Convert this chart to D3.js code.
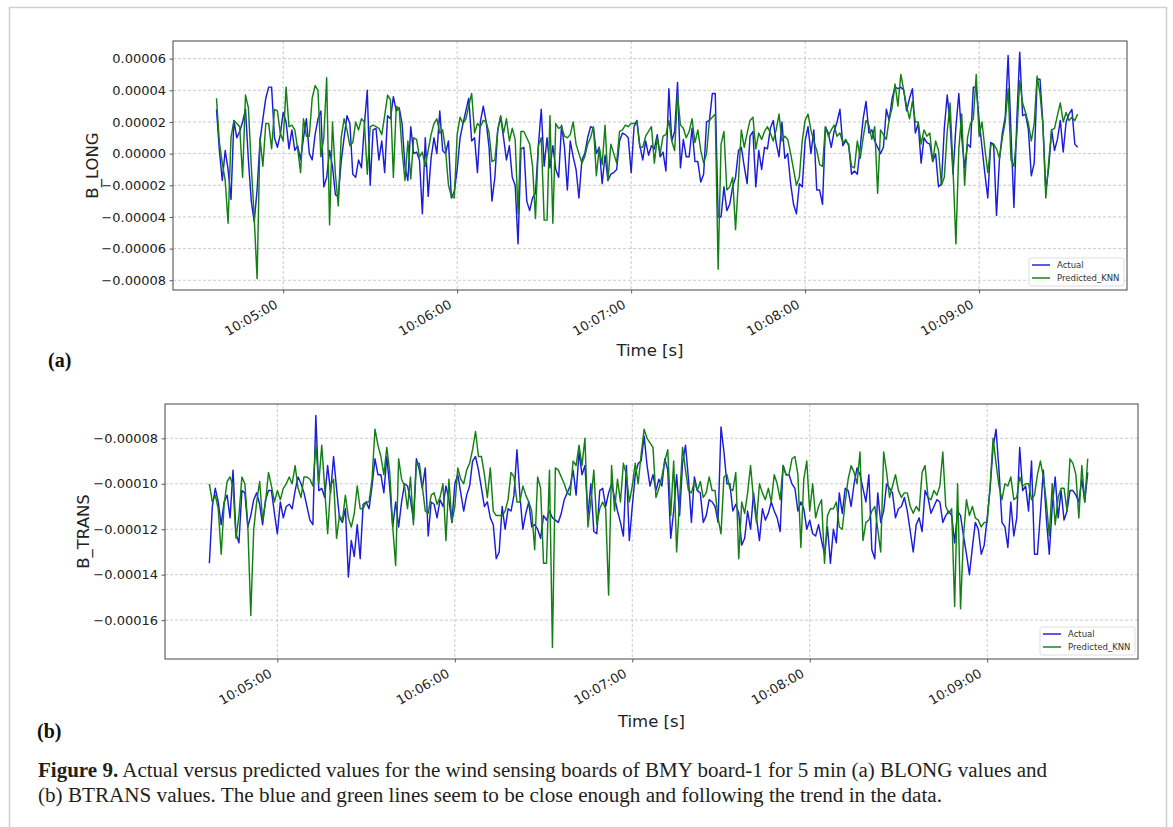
<!DOCTYPE html>
<meta charset="utf-8">
<title>Figure 9</title>
<style>
body { margin: 0; background: #fff; }
svg { display: block; }
.tick text { font-family: "DejaVu Sans", sans-serif; font-size: 13px; fill: #222; }
.tick line { stroke: #333; stroke-width: 0.8; }
.grid line { stroke: #bdbdbd; stroke-width: 0.8; stroke-dasharray: 3,2; }
.axis-title { font-family: "DejaVu Sans", sans-serif; font-size: 16.5px; fill: #222; }
.legend text { font-family: "DejaVu Sans", sans-serif; font-size: 8.5px; fill: #333; }
.panel-tag { font-family: "Liberation Serif", serif; font-size: 20px; font-weight: bold; fill: #111; }
.caption { font-family: "Liberation Serif", serif; font-size: 20.5px; fill: #231f20; }
</style>
<svg width="1173" height="827"></svg>
<script src="https://d3js.org/d3.v7.min.js"></script>
<script>

// time axis
var startTime = "10:04:37";          // first sample, one sample per second
var xStart = "10:04:22", xEnd = "10:09:51";
var timeTicks = ["10:05:00", "10:06:00", "10:07:00", "10:08:00", "10:09:00"];

var longTicks = [-0.00008, -0.00006, -0.00004, -0.00002, 0, 0.00002, 0.00004, 0.00006];
var transTicks = [-0.00016, -0.00014, -0.00012, -0.00010, -0.00008];

var seriesNames = ["Actual", "Predicted_KNN"];

// B_LONG, values in units of 1e-6
var longActual = [
  28, 2, -17, 2, -10, -29, 21, 10, 14, 20,
  28, -4, -30, -43, -23, 8, 22, 35, 42, 42,
  10, 4, 12, 26, 20, 3, 15, 2, 5, -4,
  10, 22, 0, -4, 12, 22, 27, -21, -15, 2,
  -8, -26, -27, -5, 10, 24, 19, -13, -15, -4,
  -9, 18, 40, -20, 15, 16, -4, 8, -12, 24,
  22, 36, 27, 29, 19, -8, -17, 17, 0, 1,
  -4, -38, 10, -27, -3, 10, 0, 27, 2, 0,
  8, -28, -24, -10, 10, 19, 27, 35, 8, 10,
  -12, 20, 30, 20, 4, -30, -15, 15, 23, 10,
  -4, 5, -15, -20, -57, 3, 4, -30, -36, -28,
  -25, 5, 28, -8, 10, -9, 5, -10, -15, 18,
  4, -23, 8, -2, -10, -28, -4, 0, 10, 17,
  16, 0, 4, -19, -1, -17, -13, -12, -10, 8,
  13, 12, 10, -12, 17, 21, 5, -4, 8, -1,
  5, 3, 12, -2, 1, -11, 41, 8, 14, 45,
  -9, 9, -2, -2, 16, -5, -5, -18, -13, 20,
  21, 38, 38, -40, -40, -21, -36, -32, -21, -15,
  2, 4, -8, -19, 11, 14, -21, 2, -10, 4,
  3, 16, 21, 7, -2, 20, -3, 0, -19, -32,
  -38, -19, -21, 8, 17, 0, 15, -23, -23, -32,
  17, 13, 4, 14, 20, 28, 5, 8, 6, -13,
  -11, -13, 4, 22, 33, 13, 15, 8, 4, 0,
  4, 28, 21, 35, 42, 41, 42, 40, 27, 35,
  41, 13, 19, -6, 10, 7, 6, -5, 0, -21,
  -19, 16, 37, 19, -13, 17, 38, 10, -9, 6,
  4, 42, 42, 21, 4, -13, -28, 7, 6, -39,
  -4, 13, 23, 62, 13, -34, 21, 64, 24, 25,
  15, -14, -6, 47, 47, 19, -23, -9, 15, 2,
  9, 21, 1, 20, 25, 28, 6, 4
];
var longPredicted = [
  35, 7, -6, -17, -44, 10, 21, 19, 17, -15,
  37, 29, -8, -40, -79, 10, -8, 19, 19, 3,
  28, 27, 13, 8, 42, 17, 18, 15, 3, -12,
  22, 11, 11, 35, 43, 40, -2, 10, 48, -45,
  20, -13, -33, 10, 22, 15, 5, 7, 20, 15,
  22, 20, -13, 17, 18, 17, 16, 12, 24, 37,
  34, -15, 30, 28, 2, -17, 8, -16, 10, 9,
  -2, 1, -8, 2, 12, 19, 22, 13, 15, 2,
  -20, -27, -28, 12, 23, 19, 22, 30, 38, 13,
  19, 17, 21, 20, 13, -5, -4, 15, 24, 13,
  22, 8, 16, 9, -38, 14, 14, 10, 6, -8,
  -41, 5, 10, -42, -42, 24, -44, 19, 16, 17,
  11, 10, 12, 20, 6, 0, -6, -2, 6, 10,
  17, -14, 4, -7, 18, -17, 6, 0, -6, 14,
  15, 18, 17, 19, 19, 20, 4, 4, 11, 14,
  17, -6, 10, 0, 11, 12, 21, 8, 2, 37,
  18, 16, 10, 14, 22, 7, 15, 2, -6, 0,
  21, 23, 25, -73, 6, 14, -23, -21, -15, -48,
  -17, 15, 4, 13, 21, 23, 3, 13, 9, 14,
  17, 13, 8, 15, 25, 8, 11, 9, 0, -10,
  -20, -15, 8, 21, 25, 15, 8, 2, -7, -8,
  17, 11, 15, 18, 11, 13, 7, 9, 5, -8,
  -9, 8, -3, 10, 21, 18, 9, 17, -25, 15,
  12, 9, 22, 29, 44, 30, 50, 40, 30, 22,
  33, 20, 20, 6, 15, 11, 13, -5, 8, 2,
  -20, -15, 14, 32, -10, -57, 3, 25, -20, 10,
  19, 22, 50, 11, 20, 3, -12, 5, 6, 3,
  -3, 10, 20, 41, -4, -8, 12, 46, 32, 26,
  19, 8, 19, 49, 38, 18, -28, -5, 15, 16,
  24, 32, 20, 26, 21, 23, 21, 25
];

// B_TRANS, values in units of 1e-6
var transActual = [
  -135, -110, -102, -108, -118, -108, -105, -115, -94, -122,
  -126, -103, -104, -119, -114, -107, -104, -109, -118, -107,
  -103, -103, -113, -122, -108, -115, -110, -109, -111, -103,
  -97, -100, -104, -110, -116, -118, -70, -103, -102, -106,
  -92, -104, -88, -102, -115, -117, -111, -141, -125, -132,
  -118, -133, -109, -108, -111, -101, -89, -96, -96, -104,
  -88, -102, -119, -108, -119, -108, -100, -101, -107, -116,
  -89, -94, -102, -93, -123, -108, -109, -115, -107, -110,
  -101, -107, -117, -100, -96, -104, -112, -105, -101, -90,
  -88, -94, -102, -110, -108, -115, -118, -133, -130, -110,
  -120, -111, -112, -105, -85, -105, -120, -113, -108, -119,
  -118, -120, -124, -114, -116, -112, -115, -116, -117, -113,
  -107, -104, -101, -94, -105, -86, -96, -92, -114, -100,
  -121, -122, -103, -102, -110, -104, -100, -106, -112, -117,
  -123, -92, -125, -110, -96, -91, -90, -79, -92, -101,
  -96, -103, -98, -101, -89, -94, -124, -112, -96, -114,
  -91, -83, -98, -117, -97, -103, -104, -117, -114, -107,
  -108, -110, -117, -75, -86, -100, -100, -112, -109, -113,
  -127, -124, -112, -120, -104, -115, -125, -111, -116, -113,
  -108, -112, -115, -121, -92, -96, -96, -100, -102, -112,
  -108, -111, -120, -116, -122, -123, -118, -125, -131, -119,
  -135, -120, -126, -104, -113, -102, -103, -110, -100, -93,
  -96, -102, -108, -96, -129, -133, -104, -117, -112, -100,
  -102, -104, -115, -111, -110, -106, -112, -121, -130, -118,
  -115, -121, -103, -106, -113, -110, -107, -108, -117, -114,
  -112, -114, -126, -112, -114, -123, -131, -140, -128, -117,
  -120, -131, -127, -115, -102, -84, -76, -94, -117, -119,
  -128, -108, -123, -115, -84, -103, -101, -112, -90, -131,
  -131, -113, -94, -115, -131, -110, -97, -115, -103, -116,
  -112, -103, -103, -105, -108, -98, -108, -95
];
var transPredicted = [
  -100, -108, -105, -111, -131, -109, -99, -97, -101, -124,
  -114, -97, -100, -118, -158, -120, -108, -99, -116, -108,
  -95, -101, -108, -103, -107, -102, -100, -97, -100, -92,
  -102, -106, -97, -97, -98, -101, -83, -100, -83, -102,
  -122, -101, -98, -124, -114, -116, -105, -115, -119, -113,
  -101, -111, -111, -108, -108, -98, -76, -83, -88, -96,
  -84, -95, -119, -136, -89, -98, -101, -111, -97, -118,
  -91, -91, -101, -112, -113, -105, -104, -109, -106, -100,
  -125, -98, -117, -110, -93, -98, -100, -94, -91, -85,
  -77, -88, -88, -96, -106, -93, -112, -114, -114, -114,
  -112, -107, -95, -97, -108, -108, -101, -105, -108, -112,
  -129, -97, -102, -135, -135, -94, -172, -93, -94, -97,
  -100, -104, -105, -90, -92, -83, -92, -80, -119, -108,
  -94, -118, -111, -108, -111, -149, -92, -112, -98, -108,
  -91, -96, -108, -101, -91, -100, -87, -76, -80, -82,
  -84, -106, -102, -97, -90, -85, -114, -90, -130, -107,
  -84, -94, -103, -104, -99, -103, -99, -106, -104, -97,
  -103, -103, -115, -122, -97, -96, -102, -103, -95, -133,
  -108, -113, -104, -92, -107, -117, -100, -104, -107, -102,
  -108, -96, -100, -107, -92, -96, -96, -89, -88, -96,
  -128, -98, -90, -112, -100, -115, -110, -107, -135, -114,
  -111, -111, -108, -119, -120, -108, -98, -92, -95, -100,
  -86, -125, -117, -116, -112, -110, -120, -130, -86, -95,
  -106, -101, -96, -103, -106, -104, -104, -110, -113, -110,
  -112, -95, -92, -106, -107, -103, -105, -101, -86, -110,
  -113, -111, -154, -100, -155, -123, -107, -114, -110, -115,
  -116, -119, -117, -117, -101, -80, -91, -101, -107, -100,
  -101, -97, -107, -106, -97, -101, -100, -100, -107, -105,
  -96, -90, -97, -108, -123, -100, -118, -106, -102, -102,
  -112, -89, -91, -96, -115, -92, -108, -89
];

var parseTime = d3.timeParse("%H:%M:%S");
var colors = ["#1c1cdc", "#138013"];
var svg = d3.select("svg");

// outer figure frame
svg.append("rect")
    .attr("x", 9.5).attr("y", 7.5)
    .attr("width", 1157).attr("height", 850)
    .attr("fill", "none")
    .attr("stroke", "#cfcfcf")
    .attr("stroke-width", 1.5);

function drawPanel(p) {
  var t0 = parseTime(startTime);
  var x = d3.scaleTime()
      .domain([parseTime(xStart), parseTime(xEnd)])
      .range([p.left, p.right]);

  var ext = d3.extent(p.series[0].concat(p.series[1])).map(function(v) { return v * 1e-6; });
  var pad = (ext[1] - ext[0]) * 0.05;
  var y = d3.scaleLinear()
      .domain([ext[0] - pad, ext[1] + pad])
      .range([p.bottom, p.top]);

  var tickDates = timeTicks.map(parseTime);
  var g = svg.append("g");

  // dashed grid
  var grid = g.append("g").attr("class", "grid");
  grid.selectAll(".gx").data(tickDates).enter().append("line")
      .attr("x1", function(d) { return x(d); }).attr("x2", function(d) { return x(d); })
      .attr("y1", p.top).attr("y2", p.bottom);
  grid.selectAll(".gy").data(p.ticks).enter().append("line")
      .attr("x1", p.left).attr("x2", p.right)
      .attr("y1", function(d) { return y(d); }).attr("y2", function(d) { return y(d); });

  // axes
  var yAxis = g.append("g")
      .attr("transform", "translate(" + p.left + ",0)")
      .call(d3.axisLeft(y).tickValues(p.ticks).tickFormat(d3.format(".5f")).tickSize(3.5).tickPadding(3.5));
  yAxis.select(".domain").remove();

  var xAxis = g.append("g")
      .attr("transform", "translate(0," + p.bottom + ")")
      .call(d3.axisBottom(x).tickValues(tickDates).tickFormat(d3.timeFormat("%H:%M:%S")).tickSize(3.5));
  xAxis.select(".domain").remove();
  xAxis.selectAll("text")
      .attr("x", 0).attr("y", 0).attr("dy", null)
      .attr("text-anchor", "end")
      .attr("transform", "translate(-5,17) rotate(-30)");

  // lines
  var line = d3.line()
      .x(function(d, i) { return x(d3.timeSecond.offset(t0, i)); })
      .y(function(d) { return y(d * 1e-6); });
  p.series.forEach(function(s, k) {
    g.append("path")
        .datum(s)
        .attr("fill", "none")
        .attr("stroke", colors[k])
        .attr("stroke-width", 1.45)
        .attr("stroke-linejoin", "round")
        .attr("d", line);
  });

  // frame
  g.append("rect")
      .attr("x", p.left).attr("y", p.top)
      .attr("width", p.right - p.left).attr("height", p.bottom - p.top)
      .attr("fill", "none").attr("stroke", "#444").attr("stroke-width", 1);

  // legend, lower right
  var lw = 95, lh = 28;
  var lx = p.right - 3 - lw, ly = p.bottom - 4 - lh;
  var leg = g.append("g").attr("class", "legend");
  leg.append("rect")
      .attr("x", lx).attr("y", ly).attr("width", lw).attr("height", lh)
      .attr("rx", 2).attr("fill", "#fff").attr("fill-opacity", 0.85)
      .attr("stroke", "#d5d5d5").attr("stroke-width", 0.8);
  seriesNames.forEach(function(name, k) {
    var yy = ly + 7 + k * 13;
    leg.append("line")
        .attr("x1", lx + 3).attr("x2", lx + 21)
        .attr("y1", yy).attr("y2", yy)
        .attr("stroke", colors[k]).attr("stroke-width", 1.45);
    leg.append("text")
        .attr("x", lx + 28).attr("y", yy).attr("dy", "0.35em")
        .text(name);
  });

  // titles
  g.append("text")
      .attr("class", "axis-title")
      .attr("text-anchor", "middle")
      .attr("transform", "translate(" + p.yTitleX + "," + (p.top + p.bottom) / 2 + ") rotate(-90)")
      .text(p.yTitle);
  g.append("text")
      .attr("class", "axis-title")
      .attr("text-anchor", "middle")
      .attr("x", (p.left + p.right) / 2).attr("y", p.xTitleY)
      .text("Time [s]");
  g.append("text")
      .attr("class", "panel-tag")
      .attr("x", p.tagX).attr("y", p.tagY)
      .text(p.tag);
}

drawPanel({
  left: 173, right: 1127, top: 41, bottom: 290,
  series: [longActual, longPredicted],
  ticks: longTicks,
  yTitle: "B_LONG", yTitleX: 98, xTitleY: 356,
  tag: "(a)", tagX: 48, tagY: 367
});

drawPanel({
  left: 165, right: 1138, top: 404, bottom: 659,
  series: [transActual, transPredicted],
  ticks: transTicks,
  yTitle: "B_TRANS", yTitleX: 89, xTitleY: 727,
  tag: "(b)", tagX: 37, tagY: 738
});

// caption
var cap1 = svg.append("text").attr("class", "caption")
    .attr("x", 38).attr("y", 777)
    .attr("textLength", 1009).attr("lengthAdjust", "spacingAndGlyphs");
cap1.append("tspan").attr("font-weight", "bold").text("Figure 9.");
cap1.append("tspan").text(" Actual versus predicted values for the wind sensing boards of BMY board-1 for 5 min (a) BLONG values and");

svg.append("text").attr("class", "caption")
    .attr("x", 38).attr("y", 802)
    .attr("textLength", 904).attr("lengthAdjust", "spacingAndGlyphs")
    .text("(b) BTRANS values. The blue and green lines seem to be close enough and following the trend in the data.");

</script>
